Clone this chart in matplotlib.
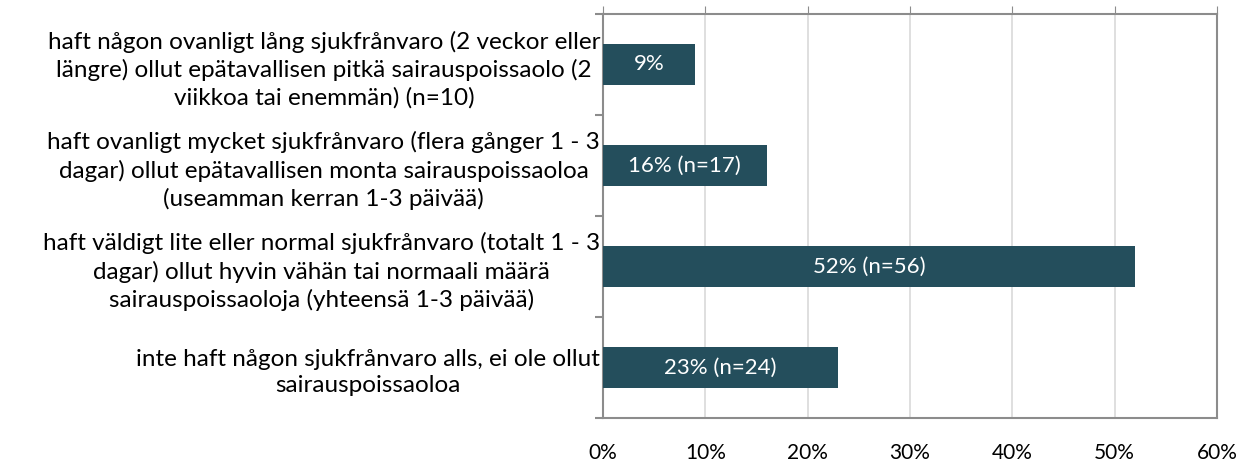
import matplotlib
matplotlib.use("Agg")
import matplotlib.pyplot as plt
from matplotlib.ticker import FixedLocator

# data
categories = [
    "haft någon ovanligt lång sjukfrånvaro (2 veckor eller\nlängre) ollut epätavallisen pitkä sairauspoissaolo (2\nviikkoa tai enemmän) (n=10)",
    "haft ovanligt mycket sjukfrånvaro (flera gånger 1 - 3\ndagar) ollut epätavallisen monta sairauspoissaoloa\n(useamman kerran 1-3 päivää)",
    "haft väldigt lite eller normal sjukfrånvaro (totalt 1 - 3\ndagar) ollut hyvin vähän tai normaali määrä\nsairauspoissaoloja (yhteensä 1-3 päivää)",
    "inte haft någon sjukfrånvaro alls, ei ole ollut\nsairauspoissaoloa",
]
values = [9, 16, 52, 23]
bar_labels = ["9%", "16% (n=17)", "52% (n=56)", "23% (n=24)"]
xticks = [0, 10, 20, 30, 40, 50, 60]

BAR_COLOR = "#244e5c"
SPINE = "#8c8c8c"
GRID = "#d9d9d9"

plt.rcParams["font.family"] = ["Lato", "DejaVu Sans"]

fig = plt.figure(figsize=(12.51, 4.66), dpi=100)
ax = fig.add_axes([603 / 1251, 1 - 418 / 466, (1217 - 603) / 1251, (418 - 14) / 466])

pos = list(range(len(values)))
ax.barh(pos, values, height=0.4, color=BAR_COLOR, zorder=3)
for p, v, lab in zip(pos, values, bar_labels):
    ax.text(v / 2, p, lab, ha="center", va="center", color="white",
            fontsize=16, zorder=4)

ax.set_xlim(0, 60)
ax.set_ylim(len(values) - 0.5, -0.5)

ax.set_xticks(xticks)
ax.set_xticklabels([f"{t}%" for t in xticks], fontsize=15)
ax.tick_params(axis="x", which="major", bottom=False, top=True, labelbottom=True,
               length=6, direction="out", color=SPINE, pad=12)
ax.grid(axis="x", color=GRID, linewidth=1.2, zorder=0)

ax.set_yticks(pos)
ax.set_yticklabels(categories, fontsize=17.5, ha="right", multialignment="center",
                   linespacing=1.35)
ax.tick_params(axis="y", which="major", length=0, pad=2)
ax.yaxis.set_minor_locator(FixedLocator([p - 0.5 for p in pos] + [pos[-1] + 0.5]))
ax.tick_params(axis="y", which="minor", length=6, color=SPINE, width=1.5)

for side in ["left", "right", "top", "bottom"]:
    ax.spines[side].set_color(SPINE)
    ax.spines[side].set_linewidth(1.5)

fig.savefig("out.png", dpi=100)
